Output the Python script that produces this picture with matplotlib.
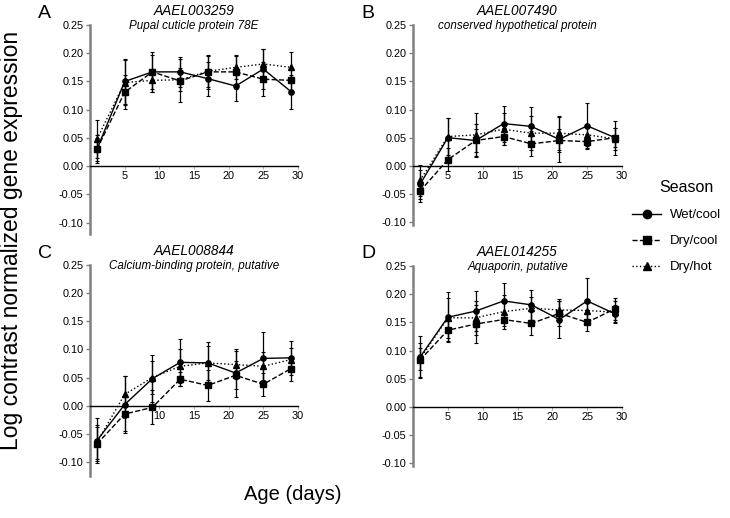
import matplotlib
matplotlib.use("Agg")
import matplotlib.pyplot as plt
from matplotlib.lines import Line2D
import numpy as np

plt.rcParams['font.family'] = ['Liberation Sans', 'DejaVu Sans']
plt.rcParams['axes.unicode_minus'] = False

days = [1, 5, 9, 13, 17, 21, 25, 29]
seasons = ["Wet/cool", "Dry/cool", "Dry/hot"]

panel_letters = ["A", "B", "C", "D"]
gene_ids = ["AAEL003259", "AAEL007490", "AAEL008844", "AAEL014255"]
gene_names = ["Pupal cuticle protein 78E", "conserved hypothetical protein",
              "Calcium-binding protein, putative", "Aquaporin, putative"]

# Panel A
a_wet = [0.030, 0.150, 0.167, 0.167, 0.155, 0.142, 0.172, 0.132]
a_wet_err = [0.025, 0.040, 0.035, 0.026, 0.030, 0.027, 0.035, 0.030]
a_drycool = [0.030, 0.131, 0.167, 0.151, 0.167, 0.167, 0.154, 0.152]
a_drycool_err = [0.020, 0.030, 0.030, 0.038, 0.030, 0.030, 0.030, 0.020]
a_dryhot = [0.048, 0.148, 0.152, 0.153, 0.168, 0.175, 0.181, 0.175]
a_dryhot_err = [0.033, 0.040, 0.020, 0.020, 0.028, 0.020, 0.027, 0.027]

# Panel B
b_wet = [-0.033, 0.050, 0.045, 0.075, 0.070, 0.047, 0.071, 0.050]
b_wet_err = [0.025, 0.035, 0.030, 0.032, 0.035, 0.040, 0.040, 0.030]
b_drycool = [-0.045, 0.011, 0.045, 0.052, 0.039, 0.045, 0.043, 0.050]
b_drycool_err = [0.020, 0.020, 0.020, 0.015, 0.022, 0.020, 0.013, 0.017]
b_dryhot = [-0.026, 0.052, 0.055, 0.065, 0.058, 0.058, 0.055, 0.048]
b_dryhot_err = [0.028, 0.033, 0.038, 0.028, 0.030, 0.030, 0.020, 0.020]

# Panel C
c_wet = [-0.062, 0.002, 0.048, 0.077, 0.076, 0.058, 0.084, 0.085]
c_wet_err = [0.040, 0.050, 0.042, 0.042, 0.037, 0.043, 0.047, 0.030]
c_drycool = [-0.068, -0.015, -0.003, 0.047, 0.036, 0.054, 0.038, 0.066]
c_drycool_err = [0.030, 0.030, 0.030, 0.012, 0.028, 0.025, 0.020, 0.022]
c_dryhot = [-0.065, 0.020, 0.050, 0.070, 0.076, 0.073, 0.070, 0.082]
c_dryhot_err = [0.030, 0.032, 0.030, 0.030, 0.030, 0.025, 0.025, 0.020]

# Panel D
d_wet = [0.088, 0.159, 0.170, 0.188, 0.181, 0.155, 0.188, 0.165]
d_wet_err = [0.037, 0.044, 0.036, 0.032, 0.027, 0.032, 0.040, 0.015]
d_drycool = [0.083, 0.136, 0.147, 0.155, 0.148, 0.166, 0.150, 0.174]
d_drycool_err = [0.030, 0.020, 0.034, 0.012, 0.020, 0.022, 0.015, 0.020]
d_dryhot = [0.085, 0.158, 0.158, 0.169, 0.175, 0.172, 0.171, 0.168]
d_dryhot_err = [0.020, 0.035, 0.030, 0.030, 0.020, 0.020, 0.020, 0.020]

panels = [
    [(a_wet, a_wet_err), (a_drycool, a_drycool_err), (a_dryhot, a_dryhot_err)],
    [(b_wet, b_wet_err), (b_drycool, b_drycool_err), (b_dryhot, b_dryhot_err)],
    [(c_wet, c_wet_err), (c_drycool, c_drycool_err), (c_dryhot, c_dryhot_err)],
    [(d_wet, d_wet_err), (d_drycool, d_drycool_err), (d_dryhot, d_dryhot_err)],
]

styles = [("-", "o"), ("--", "s"), (":", "^")]
ybottoms = [-0.12, -0.105, -0.125, -0.105]

W, H = 730, 518
fig = plt.figure(figsize=(W / 100, H / 100), dpi=100)

# axes boxes in pixels: left, right, top(0.25), bottom
boxes = [(90, 298, 25, 234), (413, 622, 25, 225), (90, 298, 265, 476), (413, 622, 266, 466)]

for i, ax_box in enumerate(boxes):
    l, r, t, b = ax_box
    ax = fig.add_axes([l / W, 1 - b / H, (r - l) / W, (b - t) / H])
    for (vals, errs), (ls, mk) in zip(panels[i], styles):
        ax.errorbar(days, vals, yerr=errs, color="black", linestyle=ls, linewidth=1.0,
                    marker=mk, markersize=3.8, capsize=1.5, elinewidth=0.9,
                    capthick=0.8, zorder=3)
    ax.set_xlim(0, 30)
    ax.set_ylim(ybottoms[i], 0.25)
    ax.spines['top'].set_visible(False)
    ax.spines['right'].set_visible(False)
    ax.spines['bottom'].set_position(('data', 0))
    ax.spines['bottom'].set_linewidth(1.0)
    ax.spines['left'].set_color('#808080')
    ax.spines['left'].set_linewidth(1.8)
    ax.set_xticks([5, 10, 15, 20, 25, 30])
    ax.set_yticks(np.round(np.arange(-0.10, 0.2501, 0.05), 2))
    ax.yaxis.set_major_formatter(matplotlib.ticker.FormatStrFormatter('%.2f'))
    ax.tick_params(axis='y', direction='out', length=3, width=1.0, color='#808080',
                   labelsize=7.8, pad=1.5)
    ax.tick_params(axis='x', direction='out', length=2, width=0.6, color='#999999',
                   labelsize=7.8, pad=1.5)
    ax.set_facecolor('none')
    cx = (l + r) / 2 / W
    fig.text(cx, 1 - (t - 14) / H, gene_ids[i], ha='center', va='center',
             fontsize=9.8, style='italic')
    fig.text(cx, 1 - (t + 1) / H, gene_names[i], ha='center', va='center',
             fontsize=8.4, style='italic')
    fig.text((l - 52) / W, 1 - (t - 12) / H, panel_letters[i], ha='left', va='center',
             fontsize=14)

fig.text(12 / W, 1 - 240 / H, "Log contrast normalized gene expression", rotation=90,
         ha='center', va='center', fontsize=16.5)
fig.text(293 / W, 1 - 495 / H, "Age (days)", ha='center', va='center', fontsize=14.5)

handles = [Line2D([], [], color='black', linestyle=ls, marker=mk, markersize=6, linewidth=1.0)
           for ls, mk in styles]
fig.text(686 / W, 1 - 187 / H, "Season", ha='center', va='center', fontsize=11.5)
leg = fig.legend(handles, seasons, loc='upper left',
                 bbox_to_anchor=(632 / W, 1 - 209 / H), frameon=False, fontsize=9.5,
                 handlelength=2.2, handletextpad=0.7, labelspacing=1.05,
                 borderpad=0, borderaxespad=0)

fig.savefig("out.png", dpi=100)
